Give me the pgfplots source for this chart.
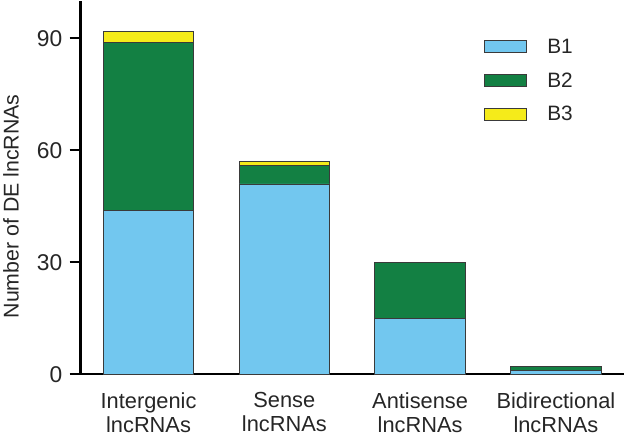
\documentclass[border=0pt]{standalone}
\usepackage{pgfplots}
\pgfplotsset{compat=1.18}
\usepackage{fontspec}
\setmainfont{Liberation Sans}
\definecolor{bone}{HTML}{72C7EF}
\definecolor{btwo}{HTML}{138043}
\definecolor{bthree}{HTML}{F5EB1A}
\definecolor{edge}{HTML}{3A3A3A}
\begin{document}
\begin{tikzpicture}[x=1bp,y=1bp]
\begin{axis}[
  scale only axis,
  width=546bp, height=375bp,
  ybar stacked, bar shift=0pt, bar width=91bp,
  xmin=-0.5, xmax=3.5, ymin=0, ymax=100,
  axis lines=left,
  axis line style={-, line width=2.4bp, black},
  xtick={0,1,2,3},
  xticklabels={Intergenic\\lncRNAs, Sense\\lncRNAs, Antisense\\lncRNAs, Bidirectional\\lncRNAs},
  x tick style={draw=none},
  ytick={0,30,60,90},
  y tick style={line width=2bp, black},
  tick align=outside,
  major tick length=11bp,
  /pgf/number format/assume math mode=true,
  ticklabel style={font=\fontsize{22}{24.5}\selectfont, text=black!85},
  xticklabel style={align=center, inner sep=0pt, yshift=-7bp},
  yticklabel style={font=\fontsize{23}{25}\selectfont, xshift=-4bp},
  ylabel={Number of DE lncRNAs},
  ylabel style={font=\fontsize{21.5}{24}\selectfont, text=black!85, at={(axis description cs:-0.128,0.45)}, anchor=center},
  legend style={draw=none, fill=none, at={(rel axis cs:0.742,0.905)}, anchor=north west,
    font=\fontsize{21}{24}\selectfont, text=black!85, inner sep=0pt,
    row sep=14bp, /tikz/every odd column/.append style={column sep=19bp}},
  legend cell align=left,
  legend image code/.code={\draw[#1, line width=0.8bp] (0bp,-6bp) rectangle (42bp,6bp);},
  clip=false,
]
\addplot[fill=bone, draw=edge, line width=0.8bp] coordinates {(0,44) (1,51) (2,15) (3,1)};
\addplot[fill=btwo, draw=edge, line width=0.8bp] coordinates {(0,45) (1,5) (2,15) (3,1)};
\addplot[fill=bthree, draw=edge, line width=0.8bp] coordinates {(0,3) (1,1) (2,0) (3,0)};
\legend{B1, B2, B3}
\draw[line width=2.4bp] (axis cs:-0.5,0) ++(-11bp,0) -- (axis cs:-0.5,0);
\end{axis}
\path ([yshift=-3bp]current bounding box.south west);
\end{tikzpicture}
\end{document}
